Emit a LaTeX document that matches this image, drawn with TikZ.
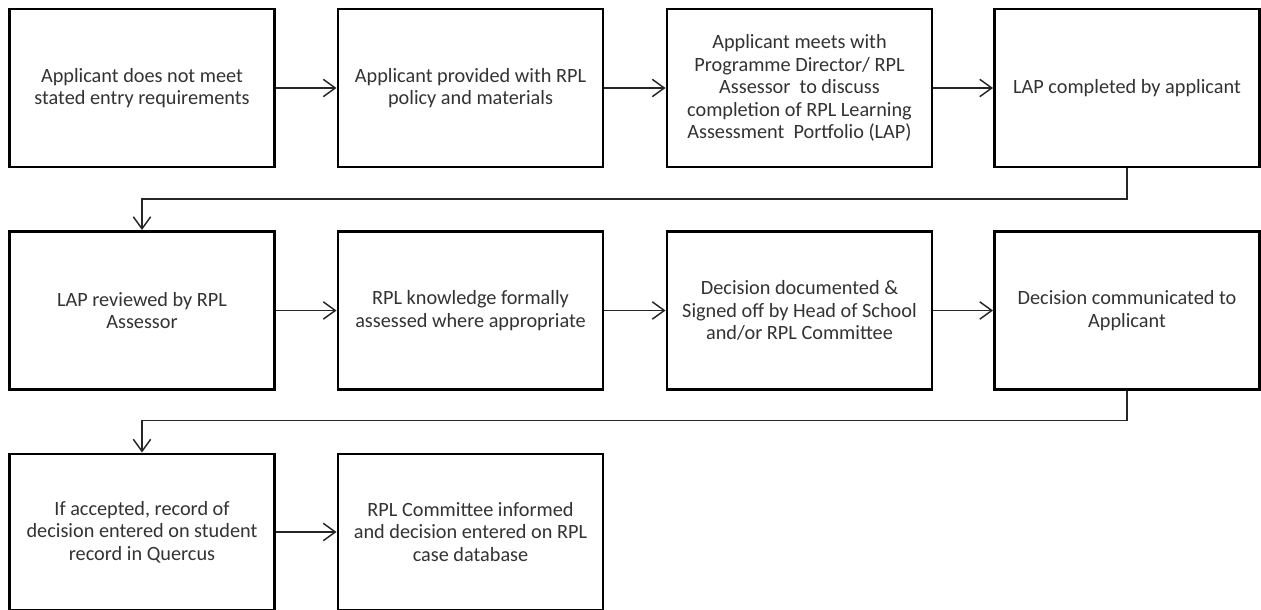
\documentclass[tikz,border=0pt]{standalone}
\usepackage{fontspec}
\setmainfont{Carlito}
\usepackage{tikz}
\usetikzlibrary{positioning, calc, arrows.meta}
\definecolor{stagetext}{HTML}{333333}
\definecolor{flowline}{HTML}{262626}
\tikzset{
  >={Straight Barb[length=9pt, width=13pt]},
  stage/.style={
    draw=black, line width=2.2pt,
    rectangle, minimum width=198.75pt, minimum height=118.5pt,
    align=center, inner sep=0pt,
    fill=white,
    font=\fontsize{15.2}{16.8}\selectfont, text=stagetext
  },
  stagelow/.style={
    stage, minimum height=117pt
  },
  flow/.style={
    ->, line width=1.1pt, draw=flowline
  },
}

\begin{document}
\begin{tikzpicture}[x=0.75pt, y=-0.75pt]

% ---- Page frame (pixel grid of the reference) ----------------------
\useasboundingbox (0,0) rectangle (1261,610);

% ---- Nodes ---------------------------------------------------------
% Row 1: application
\node[stage] (nomeet)   at ( 142.0, 88.0) {Applicant does not meet\\stated entry requirements};
\node[stage] (policy)   at ( 470.5, 88.0) {Applicant provided with RPL\\policy and materials};
\node[stage] (meeting)  at ( 799.5, 88.0) {Applicant meets with\\Programme Director/ RPL\\Assessor~ to discuss\\completion of RPL Learning\\Assessment~ Portfolio (LAP)};
\node[stage] (lapdone)  at (1127.0, 88.0) {LAP completed by applicant};

% Row 2: assessment
\node[stage] (review)   at ( 142.0, 310.5) {LAP reviewed by RPL\\Assessor};
\node[stage] (assess)   at ( 470.5, 310.5) {RPL knowledge formally\\assessed where appropriate};
\node[stage] (signoff)  at ( 799.5, 310.5) {Decision documented \&\\Signed off by Head of School\\and/or RPL Committee};
\node[stage] (inform)   at (1127.0, 310.5) {Decision communicated to\\Applicant};

% Row 3: records (cut off by the page bottom)
\node[stagelow] (quercus)  at ( 142.0, 532.0) {If accepted, record of\\decision entered on student\\record in Quercus};
\node[stagelow] (database) at ( 470.5, 532.0) {RPL Committee informed\\and decision entered on RPL\\case database};

% ---- Connectors ----------------------------------------------------
% along each row
\draw[flow] (nomeet.east)  -- (policy.west);
\draw[flow] (policy.east)  -- (meeting.west);
\draw[flow] (meeting.east) -- (lapdone.west);

\draw[flow] (review.east)  -- (assess.west);
\draw[flow] (assess.east)  -- (signoff.west);
\draw[flow] (signoff.east) -- (inform.west);

\draw[flow] (quercus.east) -- (database.west);

% row wrap: drop from the last box, run left in the gap, drop into the first box
\coordinate (wrap_a) at ($(lapdone.south |- 0,199)$);
\coordinate (wrap_b) at ($(inform.south |- 0,420.5)$);
\draw[flow] (lapdone.south) -- (wrap_a) -| (review.north);
\draw[flow] (inform.south)  -- (wrap_b) -| (quercus.north);

\end{tikzpicture}
\end{document}
